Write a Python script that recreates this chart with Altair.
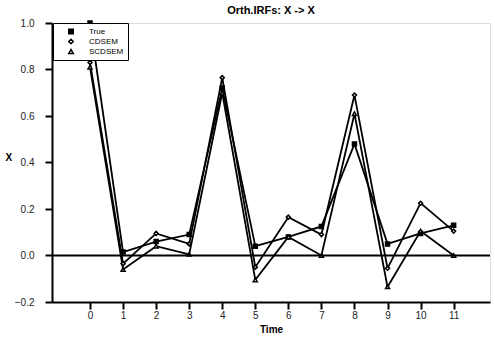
import altair as alt
import pandas as pd

periods = list(range(12))
series_names = ["True", "CDSEM", "SCDSEM"]
true_vals = [1.0, 0.015, 0.06, 0.09, 0.72, 0.04, 0.08, 0.125, 0.48, 0.05, 0.095, 0.13]
cdsem_vals = [0.83, -0.035, 0.095, 0.05, 0.765, -0.05, 0.165, 0.09, 0.69, -0.055, 0.225, 0.105]
scdsem_vals = [0.81, -0.06, 0.04, 0.005, 0.70, -0.105, 0.08, 0.0, 0.61, -0.135, 0.105, 0.0]

rows = []
for name, vals in zip(series_names, [true_vals, cdsem_vals, scdsem_vals]):
    for t, v in zip(periods, vals):
        rows.append({"Time": t, "X": v, "series": name})
df = pd.DataFrame(rows)

FONT = "Liberation Sans"

xscale = alt.Scale(domain=[-1.15, 12.1], nice=False, zero=False)
yscale = alt.Scale(domain=[-0.2, 1.0], nice=False, zero=False)

xaxis = alt.Axis(values=periods, grid=False, tickSize=7, tickWidth=2, labelPadding=1,
                 labelOverlap=False, labelFlush=False, tickCount=12,
                 domain=True, domainWidth=2, domainColor="black", tickColor="black",
                 labelFontSize=10, labelColor="#222", titleFontSize=10, titleFontWeight="bold",
                 titlePadding=4, labelFont=FONT, titleFont=FONT)
yaxis = alt.Axis(values=[-0.2, 0.0, 0.2, 0.4, 0.6, 0.8, 1.0], format=".1f", grid=False,
                 labelOverlap=False, labelFlush=False,
                 tickSize=7, tickWidth=2, labelPadding=11, domain=True, domainWidth=2,
                 domainColor="black", tickColor="black", labelFontSize=10, labelColor="#222",
                 titleFontSize=10, titleFontWeight="bold", titleAngle=0, titlePadding=6,
                 labelFont=FONT, titleFont=FONT)

base = alt.Chart(df)
X = alt.X("Time:Q", scale=xscale, axis=xaxis, title="Time")
Y = alt.Y("X:Q", scale=yscale, axis=yaxis, title="X")

lines = base.mark_line(color="black", strokeWidth=1.8).encode(x=X, y=Y, detail="series:N")

shape_scale = alt.Scale(domain=series_names, range=["square", "diamond", "triangle-up"])
fill_scale = alt.Scale(domain=series_names, range=["black", "white", "white"])
stroke_scale = alt.Scale(domain=series_names, range=["black", "black", "black"])
legend = alt.Legend(title=None, orient="none", legendX=1, legendY=0, direction="vertical",
                    strokeColor="black", fillColor="white", padding=4, labelFontSize=8,
                    labelFont=FONT, labelColor="black", symbolSize=20,
                    symbolStrokeWidth=1.5, rowPadding=1, clipHeight=9,
                    labelOffset=14, symbolOffset=10, labelLimit=200)

points = base.mark_point(size=16, strokeWidth=1.5, opacity=1, fillOpacity=1, filled=True).encode(
    x=X, y=Y,
    shape=alt.Shape("series:N", scale=shape_scale, legend=legend),
    fill=alt.Fill("series:N", scale=fill_scale, legend=legend),
    stroke=alt.Stroke("series:N", scale=stroke_scale, legend=legend),
)

zero = alt.Chart(pd.DataFrame({"y": [0.0]})).mark_rule(color="black", strokeWidth=1.8).encode(
    y=alt.Y("y:Q", scale=yscale, axis=yaxis, title="X")
)

chart = alt.layer(lines, points, zero).properties(
    width=438, height=279,
    title=alt.TitleParams("Orth.IRFs: X -> X", fontSize=11, font=FONT, fontWeight="bold",
                          anchor="middle", offset=2, color="black"),
    autosize=alt.AutoSizeParams(type="none"),
    padding={"left": 52, "top": 23, "right": 5, "bottom": 38},
).configure_view(stroke="black", strokeWidth=2).configure(background="white")

chart.save("out.html", embed_options={"renderer": "svg", "actions": False})
